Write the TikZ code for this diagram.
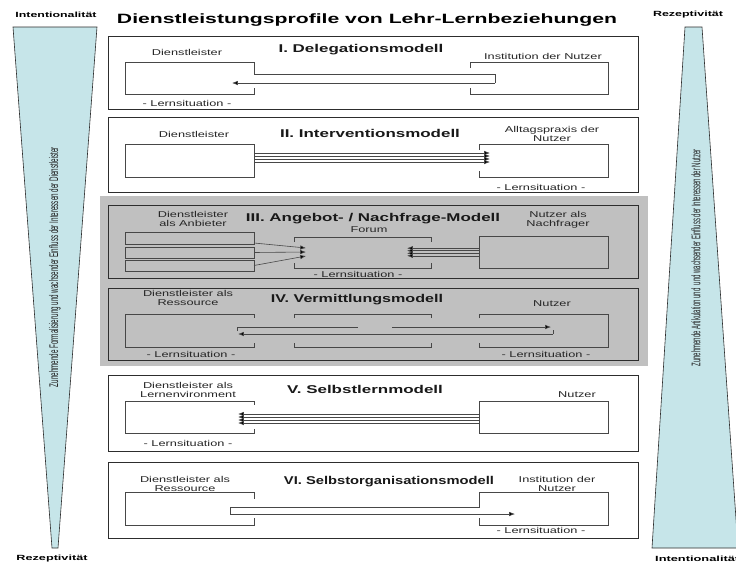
\documentclass[tikz,border=0pt]{standalone}
\usepackage{fontspec}
\setmainfont{Liberation Sans}
\usetikzlibrary{arrows.meta,calc}
\definecolor{wedge}{RGB}{198,229,233}
\definecolor{band}{RGB}{192,192,192}
\definecolor{ink}{RGB}{45,45,45}
% horizontally widened lettering
\newcommand{\wx}[1]{\scalebox{1.5}[1]{#1}}

\begin{document}
\begin{tikzpicture}[x=1pt,y=-1pt,
  panel/.style={draw=ink, line width=0.8pt, fill=white,
    preaction={fill=black!35, transform canvas={shift={(1.4pt,-1.4pt)}}}},
  graypanel/.style={panel, fill=band},
  frame/.style={draw=black!72, line width=0.7pt},
  area/.style={draw=none, inner sep=0, outer sep=0},
  lbl/.style={inner sep=0, align=center, text=black!85, font=\fontsize{8.5}{8.6}\selectfont},
  ttl/.style={inner sep=0, text=black!90, font=\bfseries\fontsize{11.3}{12}\selectfont},
  corner/.style={inner sep=0, font=\bfseries\fontsize{7.5}{8}\selectfont},
  side/.style={inner sep=0, rotate=90, text=black!88, font=\fontsize{12.5}{13}\selectfont},
  arr/.style={draw=black!72, line width=0.6pt, -{Latex[length=5.8pt,width=4.4pt,fill=black]}},
  ln/.style={draw=black!72, line width=0.6pt}
]
\useasboundingbox (0,0) rectangle (736,565);
\fill[white] (0,0) rectangle (736,565);

% ---- side wedges ----
\draw[fill=wedge, draw=ink, line width=0.6pt] (13,27) -- (97,27) -- (58,548) -- (52,548) -- cycle;
\draw[fill=wedge, draw=ink, line width=0.6pt] (685,27) -- (702,27) -- (738,548) -- (652,548) -- cycle;
\node[side] (s1) at (55,267) {\resizebox{240pt}{\height}{Zunehmende Formalisierung und wachsender Einfluss der Interessen der Dienstleister}};
\node[side] (s2) at (696,258) {\resizebox{217pt}{\height}{Zunehmende Artikulation und~ und wachsender Einfluss der Interessen der Nutzer}};

% ---- corner labels and heading ----
\node[corner] (c1) at (56,15) {\resizebox{81pt}{\height}{Intentionalität}};
\node[corner] (c2) at (688,15) {\resizebox{70pt}{\height}{Rezeptivität}};
\node[corner] (c3) at (52,559) {\resizebox{71pt}{\height}{Rezeptivität}};
\node[corner, anchor=west] (c4) at (655,559) {\resizebox{84pt}{\height}{Intentionalität}};
\node[inner sep=0, font=\bfseries\fontsize{13.5}{14}\selectfont] (head) at (367,20)
  {\resizebox{500pt}{\height}{Dienstleistungsprofile von Lehr-Lernbeziehungen}};

% ---- gray band behind III and IV ----
\fill[band] (100,196) rectangle (648,366);

% ---- panels ----
\draw[panel] (108,36) rectangle (638,109);
\draw[panel] (108,117) rectangle (638,192);
\draw[graypanel] (108,205) rectangle (638,278);
\draw[graypanel] (108,288) rectangle (638,360);
\draw[panel] (108,375) rectangle (638,451);
\draw[panel] (108,462) rectangle (638,538);

% ================= I. Delegationsmodell =================
\node[area, minimum width=129pt, minimum height=32pt] (L1) at (189.5,78) {};
\node[area, minimum width=138pt, minimum height=32pt] (R1) at (539,78) {};
\coordinate (b1a) at ($(R1.west)+(25,-4)$);
\coordinate (b1b) at ($(R1.west)+(25,5)$);
\coordinate (b1c) at ($(L1.east)+(-22,5)$);
\draw[frame] ($(L1.south east)+(0,-6)$) -- (L1.south east) -- (L1.south west) -- (L1.north west)
  -- (L1.north east) -- (L1.east |- b1a) -- (b1a) -- (b1b);
\draw[arr] (b1b) -- (b1c);
\draw[frame] ($(R1.north west)+(0,6)$) -- (R1.north west) -- (R1.north east) -- (R1.south east)
  -- (R1.south west) -- ($(R1.south west)+(0,-6)$);
\node[lbl] (t1a) at (187,52) {\wx{Dienstleister}};
\node[ttl] (t1) at (361,50) {\wx{I. Delegationsmodell}};
\node[lbl] (t1b) at (543,56) {\wx{Institution der Nutzer}};
\node[lbl] (t1c) at (187,103) {\wx{- Lernsituation -}};

% ================= II. Interventionsmodell =================
\node[area, minimum width=129pt, minimum height=33pt] (L2) at (189.5,160.5) {};
\node[area, minimum width=129pt, minimum height=33pt] (R2) at (543.5,160.5) {};
\draw[frame] (L2.north west) rectangle (L2.south east);
\draw[frame] ($(R2.north west)+(0,6)$) -- (R2.north west) -- (R2.north east) -- (R2.south east)
  -- (R2.south west) -- ($(R2.south west)+(0,-6)$);
\foreach \dy in {-7.5,-4.5,-1.5,1.5}
  \draw[arr] ($(L2.east)+(0,\dy)$) -- ($(R2.west)+(11,\dy)$);
\node[lbl] (t2a) at (194,134) {\wx{Dienstleister}};
\node[ttl] (t2) at (370,133) {\wx{II. Interventionsmodell}};
\node[lbl] (t2b) at (552,134) {\wx{Alltagspraxis der}\\\wx{Nutzer}};
\node[lbl] (t2c) at (541,187) {\wx{- Lernsituation -}};

% ================= III. Angebot- / Nachfrage-Modell =================
\node[area, minimum width=129pt, minimum height=12pt] (B1) at (189.5,238) {};
\node[area, minimum width=129pt, minimum height=11pt] (B2) at (189.5,252.5) {};
\node[area, minimum width=129pt, minimum height=11pt] (B3) at (189.5,265.5) {};
\foreach \b in {B1,B2,B3}
  \draw[frame] (\b.north west) rectangle (\b.south east);
\node[area, minimum width=137pt, minimum height=31pt] (F3) at (362.5,252.5) {};
\draw[frame] ($(F3.north west)+(0,5)$) -- (F3.north west) -- (F3.north east) -- ($(F3.north east)+(0,5)$);
\draw[frame] ($(F3.south west)+(0,-5)$) -- (F3.south west) -- (F3.south east) -- ($(F3.south east)+(0,-5)$);
\node[area, minimum width=129pt, minimum height=32pt] (R3) at (543.5,252) {};
\draw[frame] (R3.north west) rectangle (R3.south east);
\draw[arr] ($(B1.east)+(0,5)$) -- ($(F3.west)+(12,-4.5)$);
\draw[arr] (B2.east) -- ($(F3.west)+(12,-0.5)$);
\draw[arr] (B3.east) -- ($(F3.west)+(12,3.5)$);
\foreach \dy in {-3.8,-1.3,1.3,3.8}
  \draw[arr] ($(R3.west)+(0,\dy)$) -- ($(F3.east)+(-24,\dy-0.5)$);
\node[lbl] (t3a) at (193,219) {\wx{Dienstleister}\\\wx{als Anbieter}};
\node[ttl] (t3) at (373,219) {\wx{III. Angebot- / Nachfrage-Modell}};
\node[lbl] (t3b) at (558,220) {\wx{Nutzer als}\\\wx{Nachfrager}};
\node[lbl] (t3f) at (369,230) {\wx{Forum}};
\node[lbl] (t3c) at (358,274) {\wx{- Lernsituation -}};

% ================= IV. Vermittlungsmodell =================
\node[area, minimum width=129pt, minimum height=33pt] (L4) at (189.5,330.5) {};
\node[area, minimum width=137pt, minimum height=33pt] (M4) at (362.5,330.5) {};
\node[area, minimum width=129pt, minimum height=33pt] (R4) at (543.5,330.5) {};
\draw[frame] ($(L4.south east)+(0,-4)$) -- (L4.south east) -- (L4.south west) -- (L4.north west)
  -- (L4.north east) -- ($(L4.north east)+(0,4)$);
\draw[frame] ($(M4.north west)+(0,4)$) -- (M4.north west) -- (M4.north east) -- ($(M4.north east)+(0,4)$);
\draw[frame] ($(M4.south west)+(0,-4)$) -- (M4.south west) -- (M4.south east) -- ($(M4.south east)+(0,-4)$);
\draw[frame] ($(R4.north west)+(0,4)$) -- (R4.north west) -- (R4.north east) -- (R4.south east)
  -- (R4.south west) -- ($(R4.south west)+(0,-4)$);
\draw[ln] ($(L4.east)+(-17,0.5)$) -- ($(L4.east)+(-17,-3.5)$) -- ($(M4.center)+(-4.5,-3.5)$);
\draw[arr] ($(M4.center)+(29.5,-3.5)$) -- ($(R4.west)+(72,-3.5)$);
\draw[ln] ($(R4.west)+(74,-0.5)$) -- ($(R4.west)+(74,3.5)$);
\draw[arr] ($(R4.west)+(74,3.5)$) -- ($(L4.east)+(-16,3.5)$);
\node[lbl] (t4a) at (188,298) {\wx{Dienstleister als}\\\wx{Ressource}};
\node[ttl] (t4) at (357,300) {\resizebox{172pt}{\height}{IV. Vermittlungsmodell}};
\node[lbl] (t4b) at (552,304) {\wx{Nutzer}};
\node[lbl] (t4c) at (191,354) {\wx{- Lernsituation -}};
\node[lbl] (t4d) at (546,354) {\wx{- Lernsituation -}};

% ================= V. Selbstlernmodell =================
\node[area, minimum width=129pt, minimum height=32pt] (L5) at (189.5,417) {};
\node[area, minimum width=129pt, minimum height=32pt] (R5) at (543.5,417) {};
\draw[frame] ($(L5.south east)+(0,-4)$) -- (L5.south east) -- (L5.south west) -- (L5.north west)
  -- (L5.north east) -- ($(L5.north east)+(0,4)$);
\draw[frame] (R5.north west) rectangle (R5.south east);
\foreach \dy in {-3,0,3,6}
  \draw[arr] ($(R5.west)+(0,\dy)$) -- ($(L5.east)+(-16,\dy)$);
\node[lbl] (t5a) at (188,390) {\wx{Dienstleister als}\\\wx{Lernenvironment}};
\node[ttl] (t5) at (365,389) {\wx{V. Selbstlernmodell}};
\node[lbl] (t5b) at (577,395) {\wx{Nutzer}};
\node[lbl] (t5c) at (188,443) {\wx{- Lernsituation -}};

% ================= VI. Selbstorganisationsmodell =================
\node[area, minimum width=129pt, minimum height=33pt] (L6) at (189.5,508.5) {};
\node[area, minimum width=129pt, minimum height=33pt] (R6) at (543.5,508.5) {};
\draw[frame] ($(L6.south east)+(0,-7)$) -- (L6.south east) -- (L6.south west) -- (L6.north west)
  -- (L6.north east) -- ($(L6.north east)+(0,7)$);
\draw[frame] ($(R6.south west)+(0,-7)$) -- (R6.south west) -- (R6.south east) -- (R6.north east)
  -- (R6.north west) -- ($(R6.west)+(0,-1.5)$) -- ($(L6.east)+(-24,-1.5)$) -- ($(L6.east)+(-24,5.5)$);
\draw[arr] ($(L6.east)+(-24,5.5)$) -- ($(R6.west)+(36,5.5)$);
\node[lbl] (t6a) at (185,484) {\wx{Dienstleister als}\\\wx{Ressource}};
\node[ttl] (t6) at (389,482) {\resizebox{210pt}{\height}{VI. Selbstorganisationsmodell}};
\node[lbl] (t6b) at (557,484) {\wx{Institution der}\\\wx{Nutzer}};
\node[lbl] (t6c) at (541,530) {\wx{- Lernsituation -}};
\end{tikzpicture}
\end{document}
